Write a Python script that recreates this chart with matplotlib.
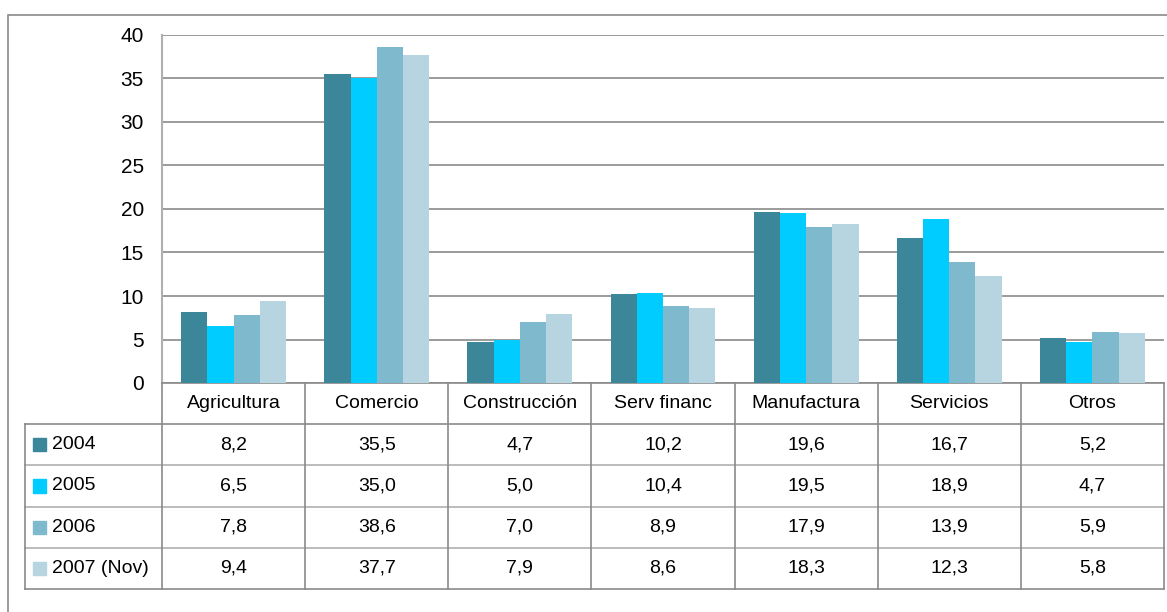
import matplotlib.pyplot as plt
from matplotlib.patches import Rectangle
import numpy as np

categorias = ['Agricultura', 'Comercio', 'Construcción', 'Serv financ',
              'Manufactura', 'Servicios', 'Otros']
series = ['2004', '2005', '2006', '2007 (Nov)']
v2004 = [8.2, 35.5, 4.7, 10.2, 19.6, 16.7, 5.2]
v2005 = [6.5, 35.0, 5.0, 10.4, 19.5, 18.9, 4.7]
v2006 = [7.8, 38.6, 7.0, 8.9, 17.9, 13.9, 5.9]
v2007 = [9.4, 37.7, 7.9, 8.6, 18.3, 12.3, 5.8]
colores = ['#3B8699', '#00CCFF', '#7EB9CD', '#B6D5E0']

plt.rcParams['font.family'] = ['Liberation Sans Narrow', 'Liberation Sans', 'DejaVu Sans']
W, H = 1167, 612
fig = plt.figure(figsize=(W / 100, H / 100), dpi=100)
grid = '#8a8a8a'
fs = 14

def fx(px):
    return px / W

def fy(py):
    return 1 - py / H

# marco exterior
fig.patches.append(Rectangle((fx(8), fy(640)), fx(1200), fy(15) - fy(640),
                             transform=fig.transFigure, fill=False,
                             edgecolor=grid, linewidth=1.2))

left, right, top, bottom = 162, 1164, 35, 383
ax = fig.add_axes([fx(left), fy(bottom), fx(right - left), fy(top) - fy(bottom)])
n = len(categorias)
x = np.arange(n)
w = 0.183
datos = [v2004, v2005, v2006, v2007]
for i, (vals, c) in enumerate(zip(datos, colores)):
    ax.bar(x + (i - 1.5) * w, vals, w, color=c, zorder=3)

ax.set_xlim(-0.5, n - 0.5)
ax.set_ylim(0, 40)
ax.set_yticks(range(0, 41, 5))
ax.yaxis.grid(True, color=grid, linewidth=1.2, zorder=0)
ax.tick_params(axis='y', length=0, labelsize=fs + 1, pad=13)
ax.set_xticks([])
for s in ['top', 'right']:
    ax.spines[s].set_visible(False)
ax.spines['left'].set_color('#b0b0b0')
ax.spines['left'].set_linewidth(1.5)
ax.spines['bottom'].set_color(grid)
ax.spines['bottom'].set_linewidth(1.2)

# tabla de datos
tb_left, tb_bottom = 25, 589
tax = fig.add_axes([fx(tb_left), fy(tb_bottom), fx(right - tb_left),
                    fy(bottom) - fy(tb_bottom)])
lw_col = (left - tb_left) / ((right - left) / n)
tax.set_xlim(-0.5 - lw_col, n - 0.5)
tax.set_ylim(0, 5)
tax.axis('off')
lc = '#8a8a8a'
# líneas horizontales
for yy in [0, 1, 2, 3, 4]:
    tax.plot([-0.5 - lw_col, n - 0.5], [yy, yy], color=lc if yy in (0, 4) else '#b0b0b0',
             lw=1.2, clip_on=False)
# líneas verticales
tax.plot([-0.5 - lw_col, -0.5 - lw_col], [0, 4], color=lc, lw=1.2, clip_on=False)
for xx in np.arange(-0.5, n, 1.0):
    tax.plot([xx, xx], [0, 5], color=lc, lw=1.2, clip_on=False)

for j, cat in enumerate(categorias):
    tax.text(j, 4.5, cat, ha='center', va='center', fontsize=fs)
for i, (nombre, vals, c) in enumerate(zip(series, datos, colores)):
    yc = 3.5 - i
    tax.add_patch(Rectangle((-0.5 - lw_col + 0.055, yc - 0.16), 0.092, 0.32,
                            color=c, clip_on=False))
    tax.text(-0.5 - lw_col + 0.19, yc, nombre, ha='left', va='center', fontsize=fs)
    for j, v in enumerate(vals):
        tax.text(j, yc, f'{v:.1f}'.replace('.', ','), ha='center', va='center',
                 fontsize=fs)

fig.savefig('out.png', dpi=100)
